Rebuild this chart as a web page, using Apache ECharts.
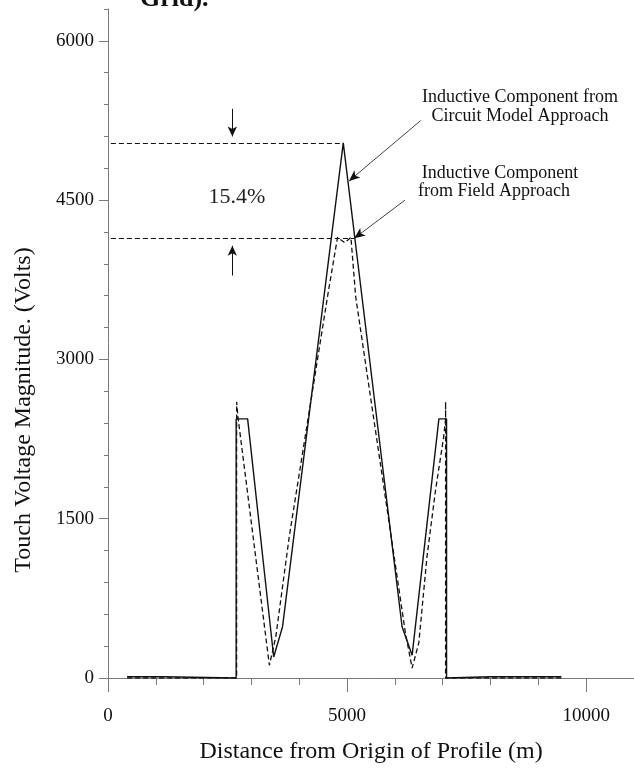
<!DOCTYPE html>
<html>
<head>
<meta charset="utf-8">
<title>Touch Voltage Magnitude</title>
<script src="https://cdn.jsdelivr.net/npm/echarts@6/dist/echarts.min.js"></script>
<style>
  html, body { margin: 0; padding: 0; background: #fff; }
  #chart { width: 634px; height: 771px; }
</style>
</head>
<body>
<div id="chart"></div>
<script>
/* 电路模型法（实线） */
const circuitX = [400, 1150, 2680, 2680, 2920, 3465, 3650, 4920, 6150, 6360, 6920, 7080, 7080, 8000, 9480]
const circuitY = [12, 12, 0, 2440, 2440, 198, 483, 5040, 483, 215, 2440, 2440, 0, 12, 12]

/* 场方法（虚线） */
const fieldX = [400, 2690, 2690, 2720, 3375, 3510, 3790, 4590, 4800, 4950, 5080, 5180, 6220, 6360, 6500, 6670, 6850, 7020, 7060, 7060, 7060, 9480]
const fieldY = [0, 0, 2600, 2450, 120, 390, 1330, 3590, 4150, 4100, 4150, 3590, 424, 94, 330, 1140, 1770, 2270, 2440, 2600, 0, 0]

/* 刻度 */
const xMajorTicks = [0, 5000, 10000]
const xMinorTicks = [0, 1000, 2000, 3000, 4000, 5000, 6000, 7000, 8000, 9000, 10000, 11000]
const yMajorTicks = [0, 1500, 3000, 4500, 6000]
const yMinorTicks = [0, 300, 600, 900, 1200, 1500, 1800, 2100, 2400, 2700, 3000, 3300, 3600,
  3900, 4200, 4500, 4800, 5100, 5400, 5700, 6000, 6300]

/* 标注：峰值虚线、箭头、引线 */
const circuitPeakLevel = 5040
const fieldPeakLevel = 4140
const peakLineStart = 60
const circuitPeakLineEnd = 4920
const fieldPeakLineEnd = 5150
const arrowX = 2600
const downArrow = [5360, 5100]
const upArrow = [3790, 4070]
const circuitLeader = [[6540, 5250], [5040, 4680]]
const fieldLeader = [[6210, 4500], [5150, 4140]]

const zip = (xs, ys) => xs.map((x, i) => [x, ys[i]])

const serif = 'Liberation Serif, Times New Roman, serif'
const axisGray = '#7a7a7a'
const ink = '#111'

const chart = echarts.init(document.getElementById('chart'))
chart.setOption({
  animation: false,
  backgroundColor: '#fff',
  grid: { left: 108, right: -2, top: 9, bottom: 93, containLabel: false },
  xAxis: [
    {
      type: 'value', min: 0, max: 11000, position: 'bottom',
      axisLine: { lineStyle: { color: axisGray, width: 1 } },
      axisTick: { customValues: xMinorTicks, length: 7, lineStyle: { color: axisGray } },
      axisLabel: { show: false },
      splitLine: { show: false }
    },
    {
      type: 'value', min: 0, max: 11000, position: 'bottom',
      axisLine: { show: false },
      axisTick: { customValues: xMajorTicks, length: 14, lineStyle: { color: axisGray } },
      axisLabel: {
        customValues: xMajorTicks, margin: 29,
        formatter: v => String(v),
        fontFamily: serif, fontSize: 19, color: ink
      },
      splitLine: { show: false },
      name: 'Distance from Origin of Profile (m)',
      nameLocation: 'middle', nameGap: 62,
      nameTextStyle: { fontFamily: serif, fontSize: 24, color: ink }
    }
  ],
  yAxis: [
    {
      type: 'value', min: 0, max: 6300, position: 'left',
      axisLine: { show: true, lineStyle: { color: axisGray, width: 1 } },
      axisTick: { show: true, customValues: yMinorTicks, length: 4, lineStyle: { color: axisGray } },
      axisLabel: { show: false },
      splitLine: { show: false }
    },
    {
      type: 'value', min: 0, max: 6300, position: 'left',
      axisLine: { show: false },
      axisTick: { show: true, customValues: yMajorTicks, length: 9, lineStyle: { color: axisGray } },
      axisLabel: {
        customValues: yMajorTicks, margin: 14,
        formatter: v => String(v),
        verticalAlign: 'middle', padding: [0, 0, 14, 0],
        fontFamily: serif, fontSize: 19, color: ink
      },
      splitLine: { show: false }
    }
  ],
  series: [
    {
      name: 'Inductive Component from Circuit Model Approach',
      type: 'line',
      xAxisIndex: 0, yAxisIndex: 0,
      showSymbol: false,
      lineStyle: { color: ink, width: 1.4 },
      data: zip(circuitX, circuitY),
      markLine: {
        silent: true,
        symbol: ['none', 'none'],
        label: { show: false },
        lineStyle: { color: ink, width: 1, type: [5, 3] },
        data: [
          [{ coord: [peakLineStart, circuitPeakLevel] }, { coord: [circuitPeakLineEnd, circuitPeakLevel] }],
          [{ coord: [peakLineStart, fieldPeakLevel] }, { coord: [fieldPeakLineEnd, fieldPeakLevel] }],
          [
            { coord: [arrowX, downArrow[0]], symbol: 'none', lineStyle: { type: 'solid' } },
            { coord: [arrowX, downArrow[1]], symbol: 'arrow', symbolSize: [7, 10] }
          ],
          [
            { coord: [arrowX, upArrow[0]], symbol: 'none', lineStyle: { type: 'solid' } },
            { coord: [arrowX, upArrow[1]], symbol: 'arrow', symbolSize: [7, 10] }
          ],
          [
            { coord: circuitLeader[0], symbol: 'none', lineStyle: { type: 'solid', width: 0.8 } },
            { coord: circuitLeader[1], symbol: 'arrow', symbolSize: [7, 11] }
          ],
          [
            { coord: fieldLeader[0], symbol: 'none', lineStyle: { type: 'solid', width: 0.8 } },
            { coord: fieldLeader[1], symbol: 'arrow', symbolSize: [7, 11] }
          ]
        ]
      }
    },
    {
      name: 'Inductive Component from Field Approach',
      type: 'line',
      xAxisIndex: 0, yAxisIndex: 0,
      showSymbol: false,
      lineStyle: { color: ink, width: 1.3, type: [5, 3] },
      data: zip(fieldX, fieldY)
    }
  ],
  graphic: [
    {
      type: 'text', x: 140, y: 12,
      style: { text: 'Grid).', font: 'bold 26px ' + serif, fill: ink, align: 'left', verticalAlign: 'bottom' }
    },
    {
      type: 'text', x: 24, y: 410, rotation: Math.PI / 2,
      style: { text: 'Touch Voltage Magnitude. (Volts)', font: '24px ' + serif, fill: ink, align: 'center', verticalAlign: 'middle' }
    },
    {
      type: 'text', x: 237, y: 197,
      style: { text: '15.4%', font: '22px ' + serif, fill: '#222', align: 'center', verticalAlign: 'middle' }
    },
    {
      type: 'text', x: 520, y: 97,
      style: { text: 'Inductive Component from', font: '18px ' + serif, fill: ink, align: 'center', verticalAlign: 'middle' }
    },
    {
      type: 'text', x: 520, y: 116,
      style: { text: 'Circuit Model Approach', font: '18px ' + serif, fill: ink, align: 'center', verticalAlign: 'middle' }
    },
    {
      type: 'text', x: 500, y: 173,
      style: { text: 'Inductive Component', font: '18px ' + serif, fill: ink, align: 'center', verticalAlign: 'middle' }
    },
    {
      type: 'text', x: 494, y: 191,
      style: { text: 'from Field Approach', font: '18px ' + serif, fill: ink, align: 'center', verticalAlign: 'middle' }
    }
  ]
})
</script>
</body>
</html>
